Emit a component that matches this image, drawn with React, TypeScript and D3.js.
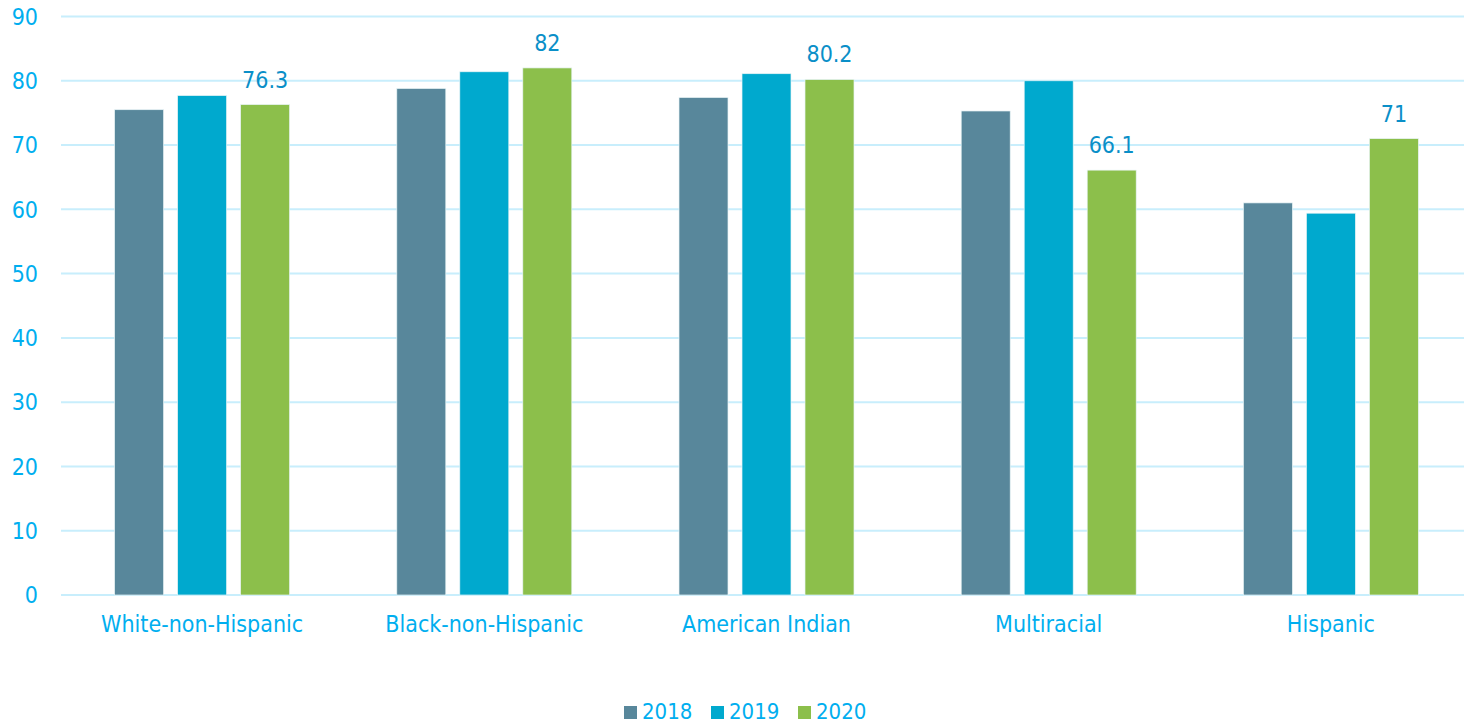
import React from "react";
import * as d3 from "d3";

const categories = ["White-non-Hispanic", "Black-non-Hispanic", "American Indian", "Multiracial", "Hispanic"];
const seriesNames = ["2018", "2019", "2020"];
const values2018 = [75.5, 78.8, 77.4, 75.3, 61.0];
const values2019 = [77.7, 81.4, 81.1, 80.0, 59.4];
const values2020 = [76.3, 82.0, 80.2, 66.1, 71.0];
const labels2020 = ["76.3", "82", "80.2", "66.1", "71"];
const yTicks = [0, 10, 20, 30, 40, 50, 60, 70, 80, 90];

const colors = ["#58879B", "#00A9CE", "#8CBF4B"];
const W = 1464, H = 726;
const FONT = "'DejaVu Sans Condensed', 'DejaVu Sans', sans-serif";
const FS = 23;

export default function App() {
  const series = [values2018, values2019, values2020];
  const x = d3.scaleBand<string>().domain(categories).range([61, 1472]).paddingInner(0).paddingOuter(0);
  const y = d3.scaleLinear().domain([0, 90]).range([595, 16.5]);
  const barW = 49;
  const gap = 14;
  const groupW = barW * 3 + gap * 2;
  return (
    <svg width={W} height={H} style={{ position: "absolute", left: 0, top: 0, background: "#fff" }}>
      {yTicks.map((t) => (
        <g key={t}>
          <line x1={61} x2={W} y1={y(t)} y2={y(t)} stroke="#C8EEFC" strokeWidth={2} />
          <text x={38} y={y(t)} dy="0.36em" textAnchor="end" fill="#00AEEF" fontSize={FS} fontFamily={FONT}>{t}</text>
        </g>
      ))}
      {categories.map((c, i) => {
        const cx = (x(c) as number) + x.bandwidth() / 2;
        const x0 = cx - groupW / 2;
        return (
          <g key={c}>
            {series.map((s, j) => (
              <rect key={j} x={x0 + j * (barW + gap)} y={y(s[i])} width={barW} height={y(0) - y(s[i])}
                fill={colors[j]} stroke="#E8F4F6" strokeWidth={0.7} />
            ))}
            <text x={x0 + 2 * (barW + gap) + barW / 2} y={y(values2020[i]) - 17} textAnchor="middle"
              fill="#0A8FC8" fontSize={FS} fontFamily={FONT}>{labels2020[i]}</text>
            <text x={cx} y={624} dy="0.36em" textAnchor="middle" fill="#00AEEF" fontSize={FS} fontFamily={FONT}>{c}</text>
          </g>
        );
      })}
      {seriesNames.map((n, j) => {
        const lx = [624, 711, 798][j];
        return (
          <g key={n}>
            <rect x={lx} y={706} width={13} height={13} fill={colors[j]} />
            <text x={lx + 18} y={719} fill="#00AEEF" fontSize={22} fontFamily={FONT}>{n}</text>
          </g>
        );
      })}
    </svg>
  );
}
